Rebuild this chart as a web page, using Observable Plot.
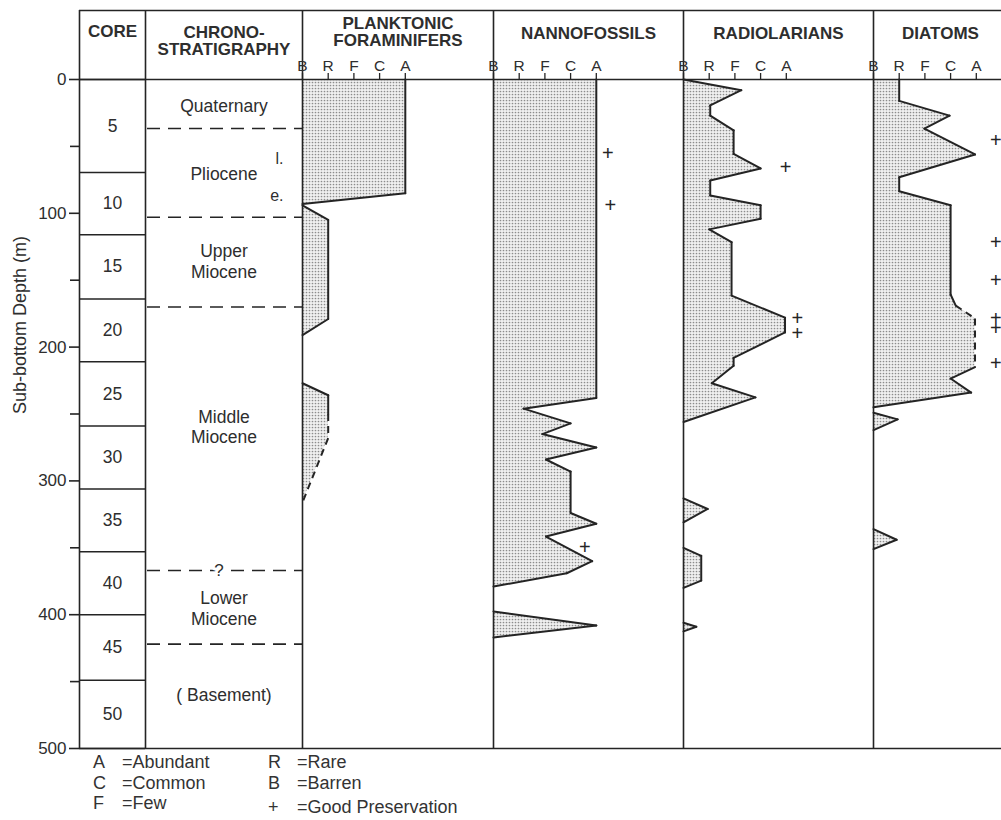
<!DOCTYPE html>
<html>
<head>
<meta charset="utf-8">
<script src="https://cdn.jsdelivr.net/npm/d3@7"></script>
<script src="https://cdn.jsdelivr.net/npm/@observablehq/plot@0.6"></script>
<style>
  body { margin: 0; background: #fff; font-family: "Liberation Sans", Arial, sans-serif; overflow: hidden; }
  #chart { position: absolute; left: 0; top: 0; display: flex; width: 1010px; height: 750px; }
  #chart svg { flex: none; }
  #legend { position: absolute; left: 0; top: 0; width: 1001px; height: 820px; pointer-events: none; font-size: 18px; color: #333; }
  #legend span { position: absolute; white-space: nowrap; line-height: 20px; }
</style>
</head>
<body>
<svg width="0" height="0" style="position:absolute">
  <defs>
    <pattern id="stipple" width="3" height="3" patternUnits="userSpaceOnUse">
      <rect width="3" height="3" fill="#f0f0f0"></rect>
      <circle cx="1.5" cy="1.5" r="0.85" fill="#8c8c8c"></circle>
    </pattern>
  </defs>
</svg>
<div id="chart"></div>
<div id="legend"></div>
<script>
// ---------------- DATA ----------------
const levels = ["B", "R", "F", "C", "A"];          // abundance codes, B=0 ... A=4
const depthTicks = [0, 100, 200, 300, 400, 500];
const depthMinorTicks = [50, 150, 250, 350, 450];

const coreBounds = [0, 69.5, 116, 164, 211, 259, 306, 353, 400, 449, 500];
const coreNumbers = ["5", "10", "15", "20", "25", "30", "35", "40", "45", "50"];

const chronoBounds = [36.6, 103, 170, 367, 422];
const chronoLabels = ["Quaternary", "Pliocene", "Upper\nMiocene", "Middle\nMiocene", "Lower\nMiocene", "( Basement)"];
const chronoLabelDepths = [19.4, 70.3, 135.6, 259.4, 395, 460];
const plioceneSub = ["l.", "e."];
const plioceneSubDepths = [59, 86.7];
const uncertainBound = 367;

// profiles: [group, depth (m), abundance level, segment-ending-here dashed]
const foraminifers = [
  [1, 0, 4], [1, 85, 4], [1, 93, 0],
  [2, 94, 0], [2, 105, 1], [2, 179, 1], [2, 191, 0],
  [3, 227, 0], [3, 236, 1], [3, 250, 1], [3, 268, 1, true], [3, 316, 0, true]
];
const nannofossils = [
  [1, 0, 4], [1, 238, 4], [1, 246, 1.17], [1, 257, 3], [1, 265, 1.9], [1, 275, 4], [1, 284, 2.04],
  [1, 293, 3], [1, 324, 3], [1, 332, 4], [1, 341.6, 2.04], [1, 360, 3.84], [1, 369, 2.85], [1, 379, 0],
  [2, 397.6, 0], [2, 408, 4], [2, 417, 0]
];
const radiolarians = [
  [1, 0, 0], [1, 8, 2.25], [1, 19.4, 1.04], [1, 27, 1.04], [1, 38, 1.95], [1, 55.6, 1.95], [1, 66.5, 3],
  [1, 75.5, 1.04], [1, 86.7, 1.04], [1, 94, 3], [1, 104, 3], [1, 112, 1], [1, 121.6, 1.87], [1, 161.5, 1.87],
  [1, 178, 3.95], [1, 189, 3.95], [1, 208, 1.95], [1, 214, 1.95], [1, 227, 1.1], [1, 237.6, 2.8], [1, 256, 0],
  [2, 313, 0], [2, 321, 0.94], [2, 331, 0],
  [3, 350, 0], [3, 356, 0.69], [3, 374.5, 0.69], [3, 380, 0],
  [4, 406, 0], [4, 409, 0.5], [4, 412.5, 0]
];
const diatoms = [
  [1, 0, 1], [1, 16, 1], [1, 27, 2.96], [1, 36.7, 1.98], [1, 56, 3.95], [1, 73, 1], [1, 83.5, 1],
  [1, 94, 3], [1, 160.7, 3], [1, 169, 3.2], [1, 178.6, 3.95, true], [1, 215, 3.95, true],
  [1, 223.5, 3], [1, 234, 3.8], [1, 245, 0],
  [2, 249, 0], [2, 254, 0.94], [2, 262, 0],
  [3, 336, 0], [3, 344, 0.9], [3, 351, 0]
];

// good preservation marks: [depth, position on abundance axis]
const nannoPreservation = [[55.5, 4.45], [94, 4.55], [350, 3.55]];
const radioPreservation = [[66, 3.97], [179, 4.43], [190, 4.43]];
const diatomPreservation = [[45.6, 4.76], [121.6, 4.76], [150, 4.76], [178.6, 4.76], [186, 4.76], [212, 4.76]];
const foramPreservation = [];

const legendCodes = ["A", "C", "F", "R", "B", "+"];
const legendMeanings = ["=Abundant", "=Common", "=Few", "=Rare", "=Barren", "=Good Preservation"];

// ---------------- LAYOUT / STYLE ----------------
const H = 750, MT = 79, MB = 2, HEAD = 69;
const UNIT = 25.7;               // px per abundance step
const ink = "#242424";
const txt = "#2e2e2e";
const FONT = "'Liberation Sans', Arial, sans-serif";
const lw = 1.6;

const yScale = {domain: [0, 500], reverse: true, axis: null};
const baseStyle = {fontFamily: FONT, background: "transparent", overflow: "visible", color: txt};

function borderMarks() {
  return [
    Plot.ruleY([0], {dy: -HEAD, stroke: ink, strokeWidth: lw}),
    Plot.ruleY([0], {stroke: ink, strokeWidth: lw}),
    Plot.ruleY([500], {stroke: ink, strokeWidth: lw}),
    Plot.ruleX([0], {insetTop: -HEAD, stroke: ink, strokeWidth: lw})
  ];
}

function header(title, dy = -46) {
  return Plot.text([title], {
    frameAnchor: "top", dy, text: d => d, fontWeight: "bold", fontSize: 17,
    lineHeight: 1.0, fill: txt, lineAnchor: "middle"
  });
}

function segments(rows) {
  const segs = [];
  for (let i = 1; i < rows.length; i++) {
    const a = rows[i - 1], b = rows[i];
    if (a[0] !== b[0]) continue;
    segs.push({x1: a[2], y1: a[1], x2: b[2], y2: b[1], dashed: !!b[3]});
  }
  return segs;
}

const chart = document.getElementById("chart");

// ---- Core column (with depth axis) ----
const coreCells = coreNumbers.map((n, i) => ({n, mid: (coreBounds[i] + coreBounds[i + 1]) / 2}));
chart.append(Plot.plot({
  width: 145, height: H, marginTop: MT, marginBottom: MB, marginLeft: 79, marginRight: 0,
  style: baseStyle,
  x: {domain: [0, 1], axis: null},
  y: yScale,
  marks: [
    Plot.axisY({ticks: depthTicks, tickSize: 10, tickPadding: 3, fontSize: 17, label: null, stroke: ink, strokeWidth: lw, fill: txt}),
    Plot.axisY({ticks: depthMinorTicks, tickFormat: () => "", tickSize: 9, label: null, stroke: ink, strokeWidth: lw}),
    Plot.text(["Sub-bottom Depth (m)"], {frameAnchor: "left", dx: -59, rotate: -90, fontSize: 18, fill: txt}),
    ...borderMarks(),
    Plot.ruleY(coreBounds, {stroke: ink, strokeWidth: lw}),
    Plot.text(coreCells, {y: "mid", text: "n", fontSize: 17.5, fill: txt}),
    header("CORE", -48)
  ]
}));

// ---- Chronostratigraphy column ----
const chronoCells = chronoLabels.map((label, i) => ({label, depth: chronoLabelDepths[i]}));
const subCells = plioceneSub.map((label, i) => ({label, depth: plioceneSubDepths[i]}));
chart.append(Plot.plot({
  width: 157, height: H, marginTop: MT, marginBottom: MB, marginLeft: 0, marginRight: 0,
  style: baseStyle,
  x: {domain: [0, 1], axis: null},
  y: yScale,
  marks: [
    ...borderMarks(),
    Plot.ruleY(chronoBounds, {stroke: ink, strokeWidth: lw, strokeDasharray: "13,8", insetLeft: 2}),
    Plot.text([uncertainBound], {y: d => d, text: () => "?", dx: -5, fontSize: 17, fill: txt, stroke: "white", strokeWidth: 6, paintOrder: "stroke"}),
    Plot.text(chronoCells, {y: "depth", text: "label", fontSize: 17.5, lineHeight: 1.16, fill: txt}),
    Plot.text(subCells, {y: "depth", text: "label", frameAnchor: "right", dx: -19, fontSize: 16, fill: txt}),
    header("CHRONO-\nSTRATIGRAPHY", -38)
  ]
}));

// ---- Abundance columns ----
function abundancePanel(title, width, rows, marks, titleDy = -46) {
  const segs = segments(rows);
  return Plot.plot({
    width, height: H, marginTop: MT, marginBottom: MB, marginLeft: 0, marginRight: 0,
    style: baseStyle,
    x: {domain: [0, width / UNIT]},
    y: yScale,
    marks: [
      Plot.areaX(rows, {y: d => d[1], x1: 0, x2: d => d[2], z: d => d[0], fill: "url(#stipple)"}),
      Plot.link(segs.filter(s => !s.dashed), {x1: "x1", y1: "y1", x2: "x2", y2: "y2", stroke: ink, strokeWidth: 2, strokeLinecap: "round"}),
      Plot.link(segs.filter(s => s.dashed), {x1: "x1", y1: "y1", x2: "x2", y2: "y2", stroke: ink, strokeWidth: 2, strokeDasharray: "7,5"}),
      Plot.text(marks, {x: d => d[1], y: d => d[0], text: () => "+", fontSize: 20, fill: ink}),
      ...borderMarks(),
      Plot.axisX({anchor: "top", ticks: [0, 1, 2, 3, 4], tickFormat: i => levels[i], tickSize: 7, tickPadding: 2,
                  fontSize: 15.5, label: null, stroke: ink, strokeWidth: 1.3, fill: txt}),
      header(title, titleDy)
    ]
  });
}

chart.append(abundancePanel("PLANKTONIC\nFORAMINIFERS", 191, foraminifers, foramPreservation, -47));
chart.append(abundancePanel("NANNOFOSSILS", 190, nannofossils, nannoPreservation));
chart.append(abundancePanel("RADIOLARIANS", 190, radiolarians, radioPreservation));
chart.append(abundancePanel("DIATOMS", 134, diatoms, diatomPreservation));

// ---- Legend (below the chart) ----
const legend = document.getElementById("legend");
const legendPos = [
  [93, 122, 762], [93, 122, 783], [93, 122, 803],
  [268, 297, 762], [268, 297, 783], [268, 297, 807]
];
legendCodes.forEach((code, i) => {
  const [xc, xm, yc] = legendPos[i];
  const a = document.createElement("span");
  a.textContent = code; a.style.left = xc + "px"; a.style.top = (yc - 10) + "px";
  const b = document.createElement("span");
  b.textContent = legendMeanings[i]; b.style.left = xm + "px"; b.style.top = (yc - 10) + "px";
  legend.append(a, b);
});
</script>
</body>
</html>
